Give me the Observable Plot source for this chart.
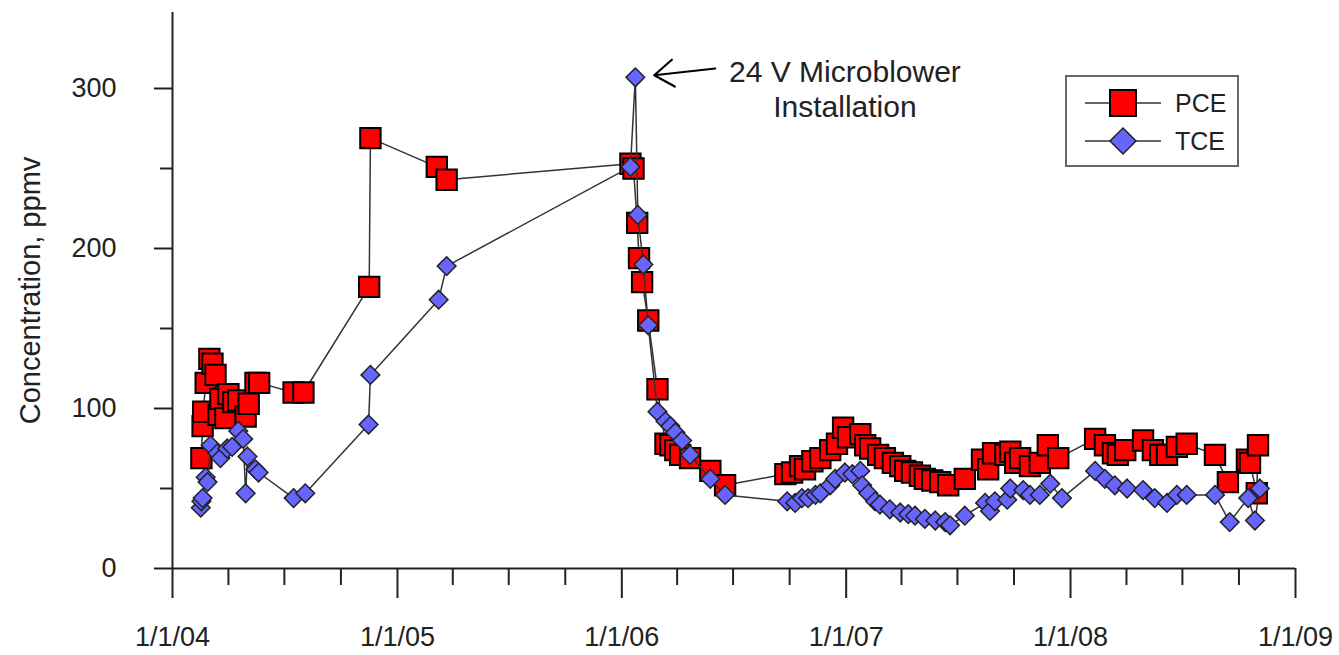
<!DOCTYPE html>
<html>
<head>
<meta charset="utf-8">
<script src="https://cdn.jsdelivr.net/npm/d3@7"></script>
<script src="https://cdn.jsdelivr.net/npm/@observablehq/plot@0.6"></script>
<style>
  html, body { margin: 0; padding: 0; background: #fff; }
  #wrap { position: relative; width: 1339px; height: 655px; font-family: "Liberation Sans", Arial, sans-serif; }
  #legend { position: absolute; left: 1065px; top: 75px; }
</style>
</head>
<body>
<div id="wrap"><div id="legend"></div></div>
<script>
// ---- Data ----
const pceDates = [
  "2004-02-17","2004-02-19","2004-02-20","2004-02-24","2004-03-01","2004-03-06","2004-03-11","2004-03-16",
  "2004-03-19","2004-03-27","2004-04-01","2004-04-09","2004-04-17","2004-04-29","2004-05-04","2004-05-15","2004-05-21",
  "2004-07-16","2004-08-01","2004-11-16","2004-11-18","2005-03-06","2005-03-22",
  "2006-01-15","2006-01-20","2006-01-26","2006-01-29","2006-02-03","2006-02-13","2006-02-28","2006-03-13","2006-03-21",
  "2006-03-29","2006-04-06","2006-04-22","2006-05-25","2006-06-18",
  "2006-09-24","2006-10-05","2006-10-18","2006-10-26","2006-11-07","2006-11-20","2006-12-06","2006-12-17","2006-12-27",
  "2007-01-04","2007-01-24","2007-02-01","2007-02-09","2007-02-22","2007-03-05","2007-03-18","2007-03-30","2007-04-07",
  "2007-04-18","2007-05-01","2007-05-09","2007-05-21","2007-06-03","2007-06-16","2007-07-13","2007-08-10","2007-08-20",
  "2007-08-28","2007-09-17","2007-09-25","2007-10-03","2007-10-11","2007-10-27","2007-11-12","2007-11-25","2007-12-12",
  "2008-02-10","2008-02-26","2008-03-10","2008-03-18","2008-03-30","2008-04-28","2008-05-14","2008-05-26","2008-06-06",
  "2008-06-22","2008-07-08","2008-08-23","2008-09-13","2008-10-14","2008-10-19","2008-10-30","2008-11-01"
];
const pceValues = [
  69, 89, 98, 116, 131, 128, 121, 96,
  106, 94, 109, 104, 105, 95, 103, 116, 116,
  110, 110, 176, 269, 251, 243,
  253, 250, 216, 194, 179, 155, 112, 78, 77,
  74, 71, 69, 61, 52,
  59, 60, 64, 62, 67, 69, 74, 78, 88,
  82, 84, 77, 75, 71, 69, 66, 64, 61,
  60, 58, 56, 55, 54, 52, 56, 68, 62,
  72, 71, 73, 66, 69, 64, 66, 77, 69,
  81, 77, 72, 71, 74, 80, 74, 71, 71,
  76, 78, 71, 54, 68, 66, 47, 77
];
const tceDates = [
  "2004-02-16","2004-02-17","2004-02-19","2004-02-24","2004-02-27","2004-03-03","2004-03-14","2004-03-19",
  "2004-03-30","2004-04-07","2004-04-17","2004-04-25","2004-04-29","2004-05-02","2004-05-15","2004-05-20",
  "2004-07-16","2004-08-04","2004-11-15","2004-11-18","2005-03-09","2005-03-22",
  "2006-01-15","2006-01-23","2006-01-27","2006-02-05","2006-02-13","2006-02-28","2006-03-13","2006-03-21","2006-03-29",
  "2006-04-09","2006-04-22","2006-05-25","2006-06-18",
  "2006-09-27","2006-10-10","2006-10-21","2006-10-31","2006-11-12","2006-11-20","2006-12-06","2006-12-14","2006-12-30",
  "2007-01-11","2007-01-24","2007-01-27","2007-02-06","2007-02-17","2007-02-25","2007-03-13","2007-03-30","2007-04-12",
  "2007-04-23","2007-05-09","2007-05-26","2007-06-11","2007-06-19","2007-07-13","2007-08-15","2007-08-23","2007-08-31",
  "2007-09-20","2007-09-25","2007-10-16","2007-10-27","2007-11-12","2007-11-29","2007-12-18",
  "2008-02-10","2008-02-26","2008-03-13","2008-04-02","2008-04-28","2008-05-17","2008-06-06","2008-06-22","2008-07-08",
  "2008-08-23","2008-09-16","2008-10-16","2008-10-27","2008-11-04"
];
const tceValues = [
  38, 42, 44, 57, 54, 77, 72, 69,
  75, 76, 86, 81, 47, 70, 62, 60,
  44, 47, 90, 121, 168, 189,
  251, 307, 221, 190, 152, 98, 92, 89, 85,
  80, 71, 56, 46,
  42, 41, 44, 44, 46, 47, 52, 56, 60,
  59, 61, 52, 47, 42, 40, 37, 35, 34,
  33, 31, 30, 29, 27, 33, 41, 36, 42,
  43, 50, 49, 46, 46, 53, 44,
  61, 56, 52, 50, 49, 44, 41, 46, 46,
  46, 29, 44, 30, 50
];
const seriesNames = ["PCE", "TCE"];
const yTicks = [0, 100, 200, 300];
const yMinorTicks = [50, 150, 250];
const xTickDates = ["2004-01-01","2005-01-01","2006-01-01","2007-01-01","2008-01-01","2009-01-01"];
const xTickLabels = ["1/1/04","1/1/05","1/1/06","1/1/07","1/1/08","1/1/09"];
const yAxisTitle = "Concentration, ppmv";
const annotationText = "24 V Microblower\nInstallation";
const annotationPoint = {date: "2006-01-23", value: 307};
const annotationLabelAt = {date: "2006-12-30", value: 300};
const annotationArrowFrom = {date: "2006-06-02", value: 312.5};

// ---- Build tables ----
const parse = s => new Date(s + "T00:00:00Z");
const pce = pceDates.map((d, i) => ({date: parse(d), value: pceValues[i]}));
const tce = tceDates.map((d, i) => ({date: parse(d), value: tceValues[i]}));
const xMajor = xTickDates.map(parse);
const xMinor = [];
for (let i = 0; i < xMajor.length - 1; i++) {
  for (let q = 1; q <= 3; q++) xMinor.push(d3.utcMonth.offset(xMajor[i], q * 3));
}
const labelOf = new Map(xMajor.map((d, i) => [+d, xTickLabels[i]]));
const yMax = 347.5;
const ann = [{
  px: parse(annotationPoint.date), py: annotationPoint.value,
  lx: parse(annotationLabelAt.date), ly: annotationLabelAt.value,
  ax: parse(annotationArrowFrom.date), ay: annotationArrowFrom.value,
  text: annotationText
}];

const PCE_FILL = "#ff0000", TCE_FILL = "#6666ff", LINE = "#333";
const FONT = "'Liberation Sans', Arial, sans-serif";

const chart = Plot.plot({
  width: 1339,
  height: 655,
  marginLeft: 172,
  marginRight: 44,
  marginTop: 12,
  marginBottom: 87,
  style: {fontFamily: FONT, fontSize: "27px", color: "#222", background: "#fff"},
  x: {type: "utc", domain: [xMajor[0], xMajor[xMajor.length - 1]]},
  y: {domain: [0, yMax]},
  marks: [
    Plot.ruleY([0], {stroke: "#222", strokeWidth: 2}),
    Plot.ruleX([xMajor[0]], {y1: 0, y2: yMax, stroke: "#222", strokeWidth: 2}),
    Plot.axisY({ticks: yTicks, tickSize: 18, tickPadding: 38, strokeWidth: 2, label: null, fontSize: 27}),
    Plot.axisY({ticks: yMinorTicks, tickSize: 12, strokeWidth: 2, tickFormat: () => "", label: null}),
    Plot.axisX({ticks: xMajor, tickSize: 30, tickPadding: 28, strokeWidth: 2, tickFormat: d => labelOf.get(+d), label: null, fontSize: 27}),
    Plot.axisX({ticks: xMinor, tickSize: 17, strokeWidth: 2, tickFormat: () => "", label: null}),
    Plot.text([yAxisTitle], {frameAnchor: "left", textAnchor: "middle", rotate: -90, dx: -142, fontSize: 29, fill: "#222"}),
    Plot.line(pce, {x: "date", y: "value", stroke: LINE, strokeWidth: 1.5}),
    Plot.dot(pce, {x: "date", y: "value", symbol: "square", r: 11.5, fill: PCE_FILL, stroke: "#000", strokeWidth: 2}),
    Plot.line(tce, {x: "date", y: "value", stroke: LINE, strokeWidth: 1.5}),
    Plot.dot(tce, {x: "date", y: "value", symbol: "diamond2", r: 8.4, fill: TCE_FILL, stroke: "#222", strokeWidth: 1.5}),
    Plot.arrow(ann, {x1: "ax", y1: "ay", x2: "px", y2: "py", insetEnd: 19, headLength: 16, headAngle: 70, stroke: "#000", strokeWidth: 2.2}),
    Plot.text(ann, {x: "lx", y: "ly", text: "text", textAnchor: "middle", lineAnchor: "middle", lineHeight: 1.15, fontSize: 30, fill: "#222"})
  ]
});
document.getElementById("wrap").prepend(chart);

// ---- Legend (boxed, inside the plot area) ----
const lg = d3.select("#legend").append("svg").attr("width", 174).attr("height", 92);
lg.append("rect").attr("x", 1).attr("y", 1).attr("width", 172).attr("height", 90)
  .attr("fill", "#fff").attr("stroke", "#666").attr("stroke-width", 2);
const rows = [{name: seriesNames[0], y: 28}, {name: seriesNames[1], y: 66}];
rows.forEach((r, i) => {
  lg.append("line").attr("x1", 20).attr("x2", 96).attr("y1", r.y).attr("y2", r.y).attr("stroke", LINE).attr("stroke-width", 1.5);
  if (i === 0) {
    lg.append("rect").attr("x", 45).attr("y", r.y - 13).attr("width", 26).attr("height", 26)
      .attr("fill", PCE_FILL).attr("stroke", "#000").attr("stroke-width", 2);
  } else {
    lg.append("path").attr("d", `M58,${r.y - 13}L71,${r.y}L58,${r.y + 13}L45,${r.y}Z`)
      .attr("fill", TCE_FILL).attr("stroke", "#222").attr("stroke-width", 1.5);
  }
  lg.append("text").attr("x", 110).attr("y", r.y).attr("dy", "0.36em").attr("font-size", 25)
    .attr("fill", "#222").attr("font-family", FONT).text(r.name);
});
</script>
</body>
</html>
